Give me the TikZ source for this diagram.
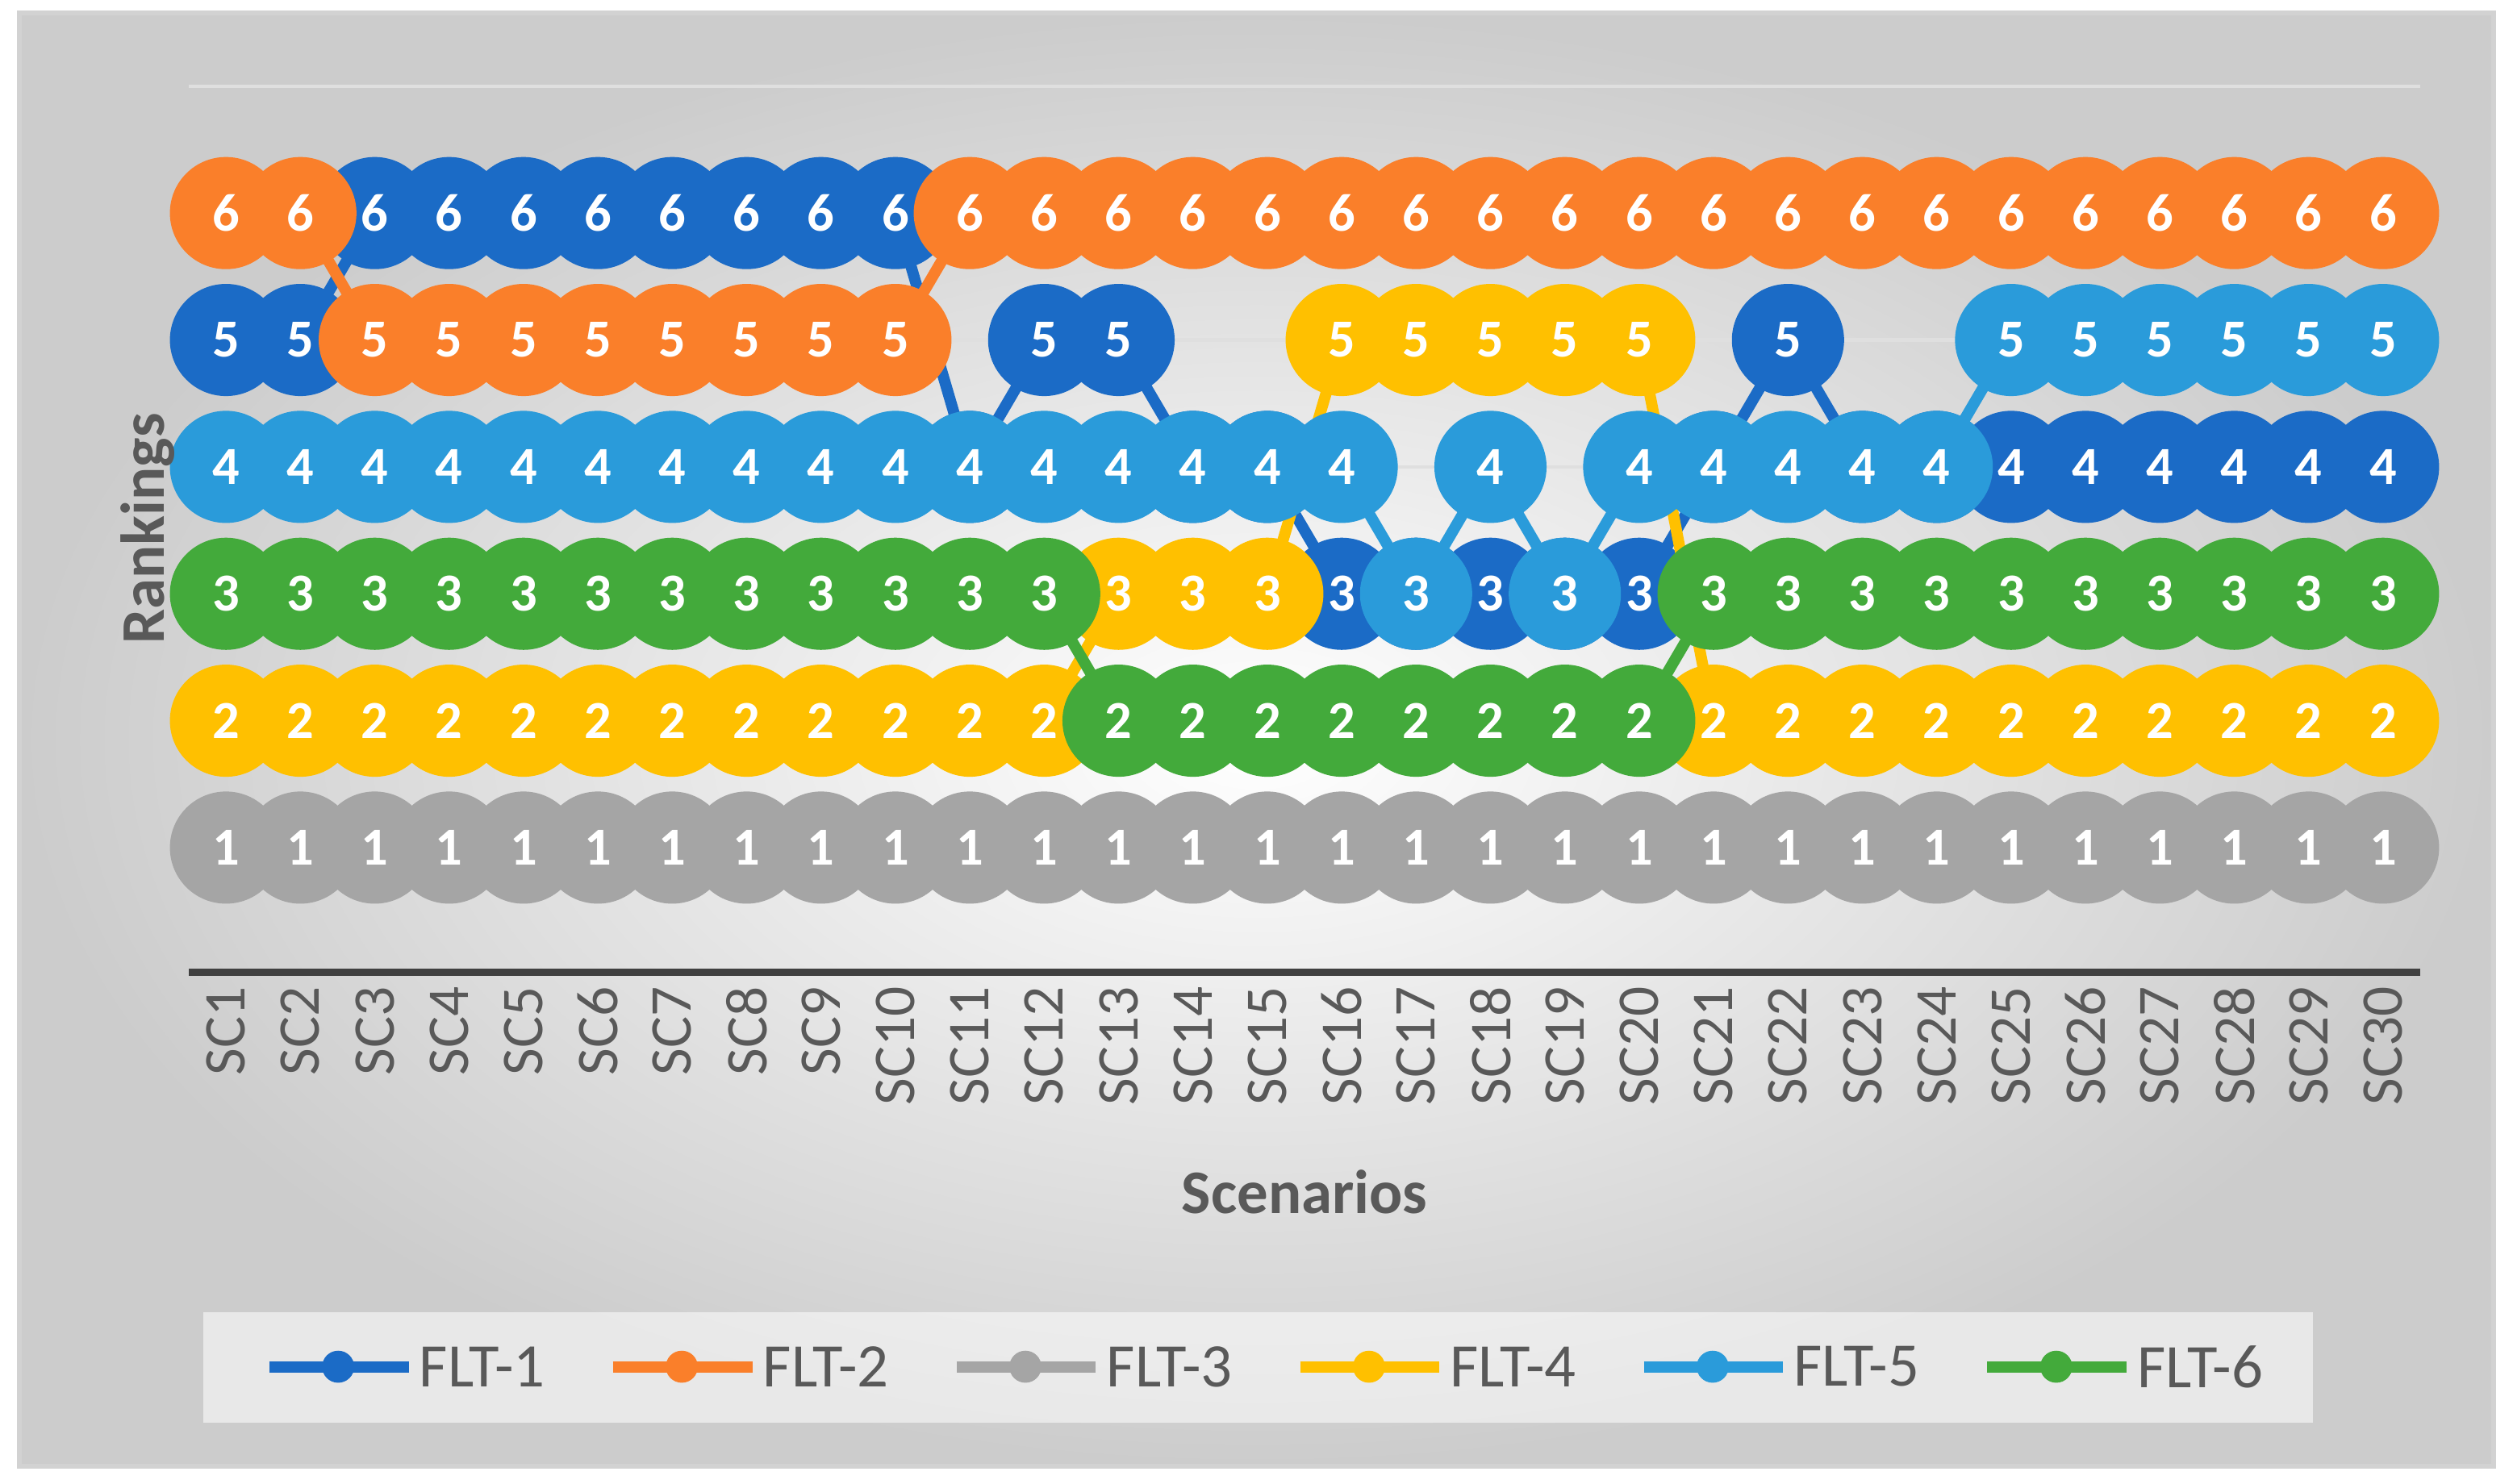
\documentclass[tikz,border=0pt]{standalone}
\usepackage{fontspec}
\setmainfont{Carlito}
\definecolor{c1}{HTML}{1B6BC6}
\definecolor{c2}{HTML}{FA7F2A}
\definecolor{c3}{HTML}{A5A5A5}
\definecolor{c4}{HTML}{FFC000}
\definecolor{c5}{HTML}{2A9BDA}
\definecolor{c6}{HTML}{43AA3B}
\definecolor{txt}{HTML}{595959}
\newcommand{\xx}[1]{1.41+(#1-1)*0.4641}
\newcommand{\yy}[1]{3.97+(#1-1)*0.792}
\newcommand{\drawseries}[2]{%
  \foreach \v [count=\i, remember=\v as \pv (initially 0)] in {#2} {
    \ifnum\i>1
      \draw[#1, line width=2pt] ({\xx{(\i-1)}},{\yy{\pv}}) -- ({\xx{\i}},{\yy{\v}});
    \fi
  }
  \foreach \v [count=\i] in {#2} {
    \node[mk, fill=#1] at ({\xx{\i}},{\yy{\v}}) {\v};
  }
}
\begin{document}
\begin{tikzpicture}[
  mk/.style={circle, minimum size=0.7cm, inner sep=0pt, text=white, font=\fontsize{9.5}{10}\selectfont\bfseries},
  grid/.style={draw=gray!25, line width=0.6pt},
  lbl/.style={text=txt, font=\fontsize{10.5}{12}\selectfont}
]
\useasboundingbox (0,0) rectangle (15.68,9.26);
\fill[white] (0,0) rectangle (15.68,9.26);
\shade[inner color=white, outer color=gray!40] (0.12,0.11) rectangle (15.56,9.18);
\draw[gray!35, line width=0.8pt] (0.12,0.11) rectangle (15.56,9.18);
% gridlines
\foreach \r in {1,...,7} \draw[grid] (1.18,{\yy{\r}}) -- (15.10,{\yy{\r}});
\draw[black!75, line width=1.3pt] (1.18,3.19) -- (15.10,3.19);
% series
\drawseries{c1}{5,5,6,6,6,6,6,6,6,6,4,5,5,4,4,3,3,3,3,3,4,5,4,4,4,4,4,4,4,4}
\drawseries{c2}{6,6,5,5,5,5,5,5,5,5,6,6,6,6,6,6,6,6,6,6,6,6,6,6,6,6,6,6,6,6}
\drawseries{c3}{1,1,1,1,1,1,1,1,1,1,1,1,1,1,1,1,1,1,1,1,1,1,1,1,1,1,1,1,1,1}
\drawseries{c4}{2,2,2,2,2,2,2,2,2,2,2,2,3,3,3,5,5,5,5,5,2,2,2,2,2,2,2,2,2,2}
\drawseries{c5}{4,4,4,4,4,4,4,4,4,4,4,4,4,4,4,4,3,4,3,4,4,4,4,4,5,5,5,5,5,5}
\drawseries{c6}{3,3,3,3,3,3,3,3,3,3,3,3,2,2,2,2,2,2,2,2,3,3,3,3,3,3,3,3,3,3}
% x labels
\foreach \i in {1,...,30}
  \node[lbl, rotate=90, anchor=east, inner sep=0pt] (sc\i) at ({\xx{\i}},3.11) {SC\i};
\node[text=txt, font=\fontsize{11}{12}\selectfont\bfseries] (xt) at (8.14,1.82) {Scenarios};
\node[text=txt, font=\fontsize{11}{12}\selectfont\bfseries, rotate=90] (yt) at (0.92,5.96) {Rankings};
% legend
\fill[white, opacity=0.55] (1.27,0.38) rectangle (14.43,1.07);
\foreach \c [count=\k] in {c1,c2,c3,c4,c5,c6} {
  \pgfmathsetmacro{\lx}{2.11+(\k-1)*2.144}
  \draw[\c, line width=2pt] ({\lx-0.43},0.73) -- ({\lx+0.44},0.73);
  \fill[\c] (\lx,0.73) circle (0.1);
  \node[lbl, anchor=west, inner sep=0pt, font=\fontsize{11}{12}\selectfont] (lg\k) at ({\lx+0.5},0.73) {FLT-\k};
}
\end{tikzpicture}
\end{document}
